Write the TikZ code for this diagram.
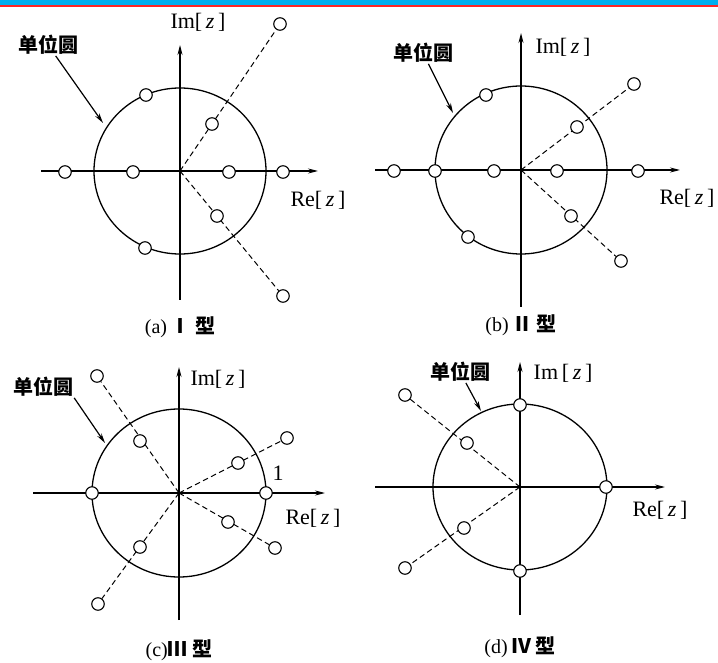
\documentclass[tikz,border=0pt]{standalone}
\usepackage{fontspec}
\setmainfont{Liberation Serif}
\newfontfamily\cjk{Noto Sans CJK SC}
\usepackage{tikz}
\usetikzlibrary{arrows.meta,backgrounds}
\definecolor{barc}{RGB}{0,174,239}
\definecolor{rulec}{RGB}{255,36,36}
\tikzset{
  zero/.style    = {circle, draw, line width=1.1pt, fill=white, minimum size=12.5pt, inner sep=0pt},
  axis/.style    = {-{Stealth[length=10pt,width=5pt]}, line width=1.3pt},
  unit/.style    = {line width=1.3pt},
  radial/.style  = {line width=1pt, dash pattern=on 5.5pt off 3.5pt},
  pointer/.style = {-{Stealth[length=10pt,width=5pt]}, line width=1.2pt},
  lbl/.style     = {font=\fontsize{22}{24}\selectfont, inner sep=0pt},
  tag/.style     = {font=\cjk\bfseries\fontsize{20}{22}\selectfont, inner sep=1pt},
  captext/.style = {font=\fontsize{20}{22}\selectfont, inner sep=0pt},
}
\newcommand{\imz}{Im[\,\textit{z}\,]}
\newcommand{\rez}{Re[\,\textit{z}\,]}

\begin{document}
\begin{tikzpicture}[x=1pt, y=-1pt]

\useasboundingbox (0,0) rectangle (718,663);
% top bar of the slide
\fill[barc] (0,0) rectangle (718,5);
\fill[rulec] (0,5) rectangle (718,7);

% (a) type I, origin at (180,171)
\coordinate (oa) at (180,171);
\coordinate (aw) at (41,171);  \coordinate (ae) at (318,171);
\coordinate (as) at (180,300); \coordinate (an) at (180,45);
\node[lbl] (ima) at (198,22) {\imz};
\node[lbl] (rea) at (318,200) {\rez};
\node[tag] (taga) at (48,45) {单位圆};
\coordinate (pa) at (103,123);
\node[captext] (capa) at (180,327) {(a)\,{\cjk\bfseries Ⅰ 型}};
\node[zero] (za1) at (65,172) {};
\node[zero] (za2) at (133,172) {};
\node[zero] (za3) at (229,172) {};
\node[zero] (za4) at (283,172) {};
\node[zero] (za5) at (146,95) {};
\node[zero] (za6) at (145,248) {};
\node[zero] (za7) at (212,124) {};
\node[zero] (za8) at (280,24) {};
\node[zero] (za9) at (217,216) {};
\node[zero] (za10) at (283,296) {};

% (b) type II, origin at (521,170)
\coordinate (ob) at (521,170);
\coordinate (bw) at (375,170); \coordinate (be) at (680,170);
\coordinate (bs) at (521,307); \coordinate (bn) at (521,33);
\node[lbl] (imb) at (563,47) {\imz};
\node[lbl] (reb) at (687,198) {\rez};
\node[tag] (tagb) at (423,53) {单位圆};
\coordinate (pb) at (453,113);
\node[captext] (capb) at (521,325) {(b)\,{\cjk\bfseries Ⅱ 型}};
\node[zero] (zb1) at (394,171) {};
\node[zero] (zb2) at (435,171) {};
\node[zero] (zb3) at (494,171) {};
\node[zero] (zb4) at (557,171) {};
\node[zero] (zb5) at (638,171) {};
\node[zero] (zb6) at (486,95) {};
\node[zero] (zb7) at (468,237) {};
\node[zero] (zb8) at (577,127) {};
\node[zero] (zb9) at (634,84) {};
\node[zero] (zb10) at (571,216) {};
\node[zero] (zb11) at (621,261) {};

% (c) type III, origin at (179,493)
\coordinate (oc) at (179,493);
\coordinate (cw) at (33,493);  \coordinate (ce) at (325,493);
\coordinate (cs) at (179,620); \coordinate (cn) at (179,367);
\node[lbl] (imc) at (218,379) {\imz};
\node[lbl] (rec) at (313,518) {\rez};
\node[lbl] (one) at (278,473) {1};
\node[tag] (tagc) at (43,387) {单位圆};
\coordinate (pc) at (105,443);
\node[captext] (capc) at (179,650) {(c){\cjk\bfseries Ⅲ 型}};
\node[zero] (zc1) at (92,493) {};
\node[zero] (zc2) at (266,493) {};
\node[zero] (zc3) at (140,441) {};
\node[zero] (zc4) at (97,376) {};
\node[zero] (zc5) at (238,463) {};
\node[zero] (zc6) at (287,438) {};
\node[zero] (zc7) at (228,522) {};
\node[zero] (zc8) at (275,548) {};
\node[zero] (zc9) at (140,547) {};
\node[zero] (zc10) at (98,604) {};

% (d) type IV, origin at (520,487)
\coordinate (od) at (520,487);
\coordinate (dw) at (375,487); \coordinate (de) at (665,487);
\coordinate (ds) at (520,615); \coordinate (dn) at (520,362);
\node[lbl] (imd) at (563,373) {Im\,[\,\textit{z}\,]};
\node[lbl] (red) at (660,510) {\rez};
\node[tag] (tagd) at (460,372) {单位圆};
\coordinate (pd) at (481,411);
\node[captext] (capd) at (520,647) {(d)\,{\cjk\bfseries Ⅳ 型}};
\node[zero] (zd1) at (520,405) {};
\node[zero] (zd2) at (520,571) {};
\node[zero] (zd3) at (606,487) {};
\node[zero] (zd4) at (467,443) {};
\node[zero] (zd5) at (405,395) {};
\node[zero] (zd6) at (464,528) {};
\node[zero] (zd7) at (405,568) {};

\begin{scope}[on background layer]
  % unit circles and axes
  \draw[unit] (oa) ellipse [x radius=86pt, y radius=83pt];
  \draw[unit] (ob) ellipse [x radius=86pt, y radius=84pt];
  \draw[unit] (oc) ellipse [x radius=87pt, y radius=84pt];
  \draw[unit] (od) ellipse [x radius=87pt, y radius=83pt];
  \draw[axis] (aw) -- (ae);  \draw[axis] (as) -- (an);
  \draw[axis] (bw) -- (be);  \draw[axis] (bs) -- (bn);
  \draw[axis] (cw) -- (ce);  \draw[axis] (cs) -- (cn);
  \draw[axis] (dw) -- (de);  \draw[axis] (ds) -- (dn);
  % reciprocal pairs
  \draw[radial] (oa) -- (za8);  \draw[radial] (oa) -- (za10);
  \draw[radial] (ob) -- (zb9);  \draw[radial] (ob) -- (zb11);
  \draw[radial] (oc) -- (zc4);  \draw[radial] (oc) -- (zc6);
  \draw[radial] (oc) -- (zc8);  \draw[radial] (oc) -- (zc10);
  \draw[radial] (od) -- (zd5);  \draw[radial] (od) -- (zd7);
\end{scope}

% pointers to the unit circle
\draw[pointer] (taga) -- (pa);
\draw[pointer] (tagb) -- (pb);
\draw[pointer] (tagc.south east) -- (pc);
\draw[pointer] (tagd) -- (pd);

\end{tikzpicture}
\end{document}
